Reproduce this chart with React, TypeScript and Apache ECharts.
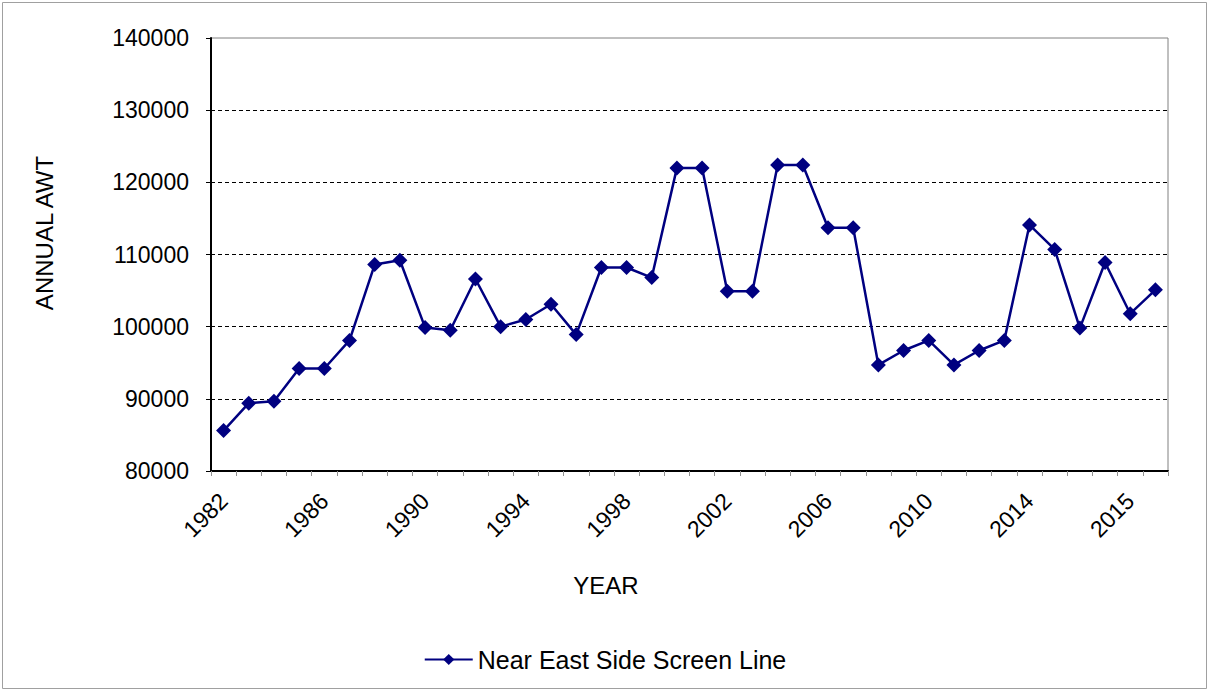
import React, { useEffect, useRef } from "react";
import * as echarts from "echarts";

const categories: string[] = [
  "1982", "1983", "1984", "1985", "1986", "1987", "1988", "1989", "1990", "1991",
  "1992", "1993", "1994", "1995", "1996", "1997", "1998", "1999", "2000", "2001",
  "2002", "2003", "2004", "2005", "2006", "2007", "2008", "2009", "2010", "2011",
  "2012", "2013", "2014", "2014", "2015", "2015", "2015", "2016",
];

const awtValues: number[] = [
  85600, 89400, 89650, 94200, 94200, 98100, 108600, 109200, 99900, 99500,
  106600, 100000, 101000, 103100, 98900, 108200, 108200, 106800, 122000, 122000,
  104900, 104900, 122400, 122400, 113700, 113700, 94700, 96700, 98100, 94700,
  96700, 98100, 114100, 110700, 99800, 108900, 101800, 105100,
];

const seriesName = "Near East Side Screen Line";
const xAxisTitle = "YEAR";
const yAxisTitle = "ANNUAL AWT";
const FONT = "'Liberation Sans', Arial, sans-serif";

export default function App() {
  const ref = useRef<HTMLDivElement | null>(null);

  useEffect(() => {
    if (!ref.current) return;
    const chart = echarts.init(ref.current, undefined, { renderer: "svg" });
    chart.setOption({
      animation: false,
      backgroundColor: "#ffffff",
      textStyle: { fontFamily: FONT, color: "#000" },
      graphic: [
        {
          type: "rect",
          shape: { x: 2.5, y: 2.5, width: 1204, height: 686 },
          style: { fill: "none", stroke: "#a0a0a0", lineWidth: 1 },
          silent: true,
        },
        {
          type: "text",
          x: 44,
          y: 233,
          rotation: Math.PI / 2,
          style: {
            text: yAxisTitle,
            fontFamily: FONT,
            fontSize: 24,
            fill: "#000",
            align: "center",
            verticalAlign: "middle",
          },
          silent: true,
        },
        {
          type: "text",
          x: 606,
          y: 585,
          style: {
            text: xAxisTitle,
            fontFamily: FONT,
            fontSize: 24,
            fill: "#000",
            align: "center",
            verticalAlign: "middle",
          },
          silent: true,
        },
      ],
      grid: {
        left: 211,
        right: 42,
        top: 38,
        bottom: 220,
        show: true,
        borderColor: "#808080",
        borderWidth: 1,
        backgroundColor: "transparent",
      },
      legend: {
        bottom: 14,
        left: "center",
        itemWidth: 48,
        itemHeight: 14,
        itemGap: 10,
        textStyle: { fontFamily: FONT, fontSize: 25, color: "#000" },
        data: [seriesName],
      },
      xAxis: {
        type: "category",
        data: categories,
        boundaryGap: true,
        axisLine: { show: true, lineStyle: { color: "#000", width: 2 } },
        axisTick: {
          show: true,
          interval: 0,
          alignWithLabel: false,
          length: 5,
          lineStyle: { color: "#909090", width: 1 },
        },
        axisLabel: {
          interval: 3,
          rotate: 45,
          margin: 26,
          fontFamily: FONT,
          fontSize: 23,
          color: "#000",
        },
        splitLine: { show: false },
      },
      yAxis: {
        type: "value",
        min: 80000,
        max: 140000,
        interval: 10000,
        axisLine: { show: true, lineStyle: { color: "#000", width: 2 } },
        axisTick: { show: true, length: 5, lineStyle: { color: "#000", width: 1 } },
        axisLabel: {
          margin: 22,
          fontFamily: FONT,
          fontSize: 23,
          color: "#000",
          formatter: (v: number) => String(v),
        },
        splitLine: {
          show: true,
          lineStyle: {
            color: ["#000", "#000", "#000", "#000", "#000", "#000", "rgba(0,0,0,0)"],
            type: [4, 3],
            width: 1,
          },
        },
      },
      series: [
        {
          name: seriesName,
          type: "line",
          data: awtValues,
          symbol: "diamond",
          symbolSize: 15,
          showAllSymbol: true,
          lineStyle: { color: "#000080", width: 2.5 },
          itemStyle: { color: "#000080" },
        },
      ],
    });
    return () => chart.dispose();
  }, []);

  return (
    <div
      ref={ref}
      style={{ position: "fixed", left: 0, top: 0, width: 1210, height: 691 }}
    />
  );
}
